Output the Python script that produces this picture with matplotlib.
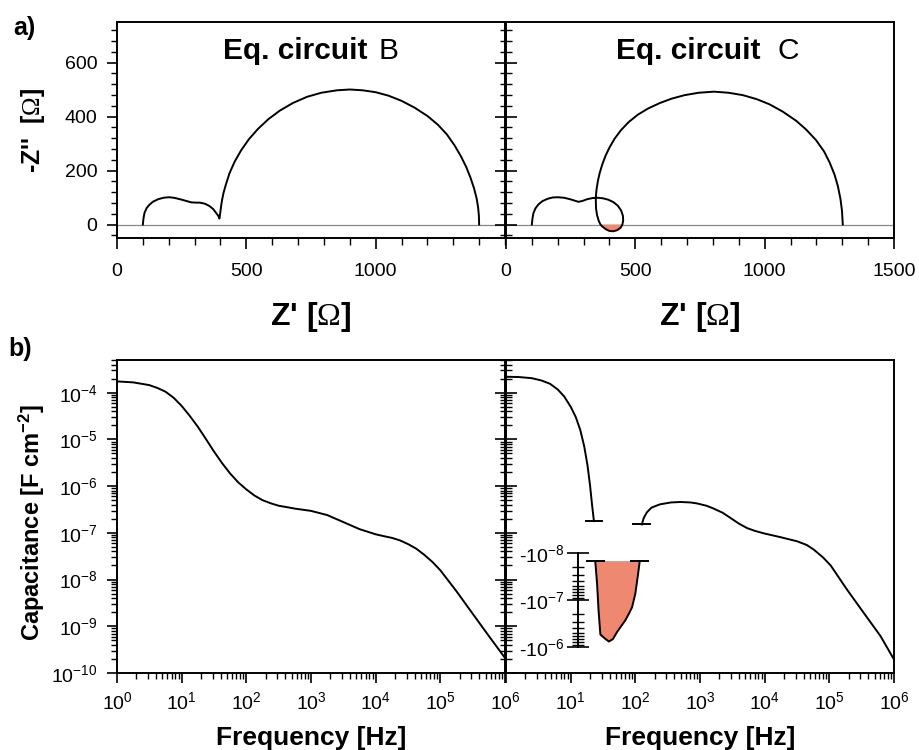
import numpy as np
import matplotlib
matplotlib.use("Agg")
import matplotlib.pyplot as plt
from matplotlib.ticker import (MultipleLocator, LogLocator, NullFormatter,
                               FuncFormatter, LogFormatterSciNotation)

plt.rcParams['font.family'] = ['Liberation Sans', 'DejaVu Sans']
plt.rcParams['mathtext.fontset'] = 'custom'
plt.rcParams['mathtext.rm'] = 'Liberation Sans'
plt.rcParams['mathtext.bf'] = 'Liberation Sans:bold'
plt.rcParams['mathtext.sf'] = 'Liberation Serif'

# --- Nyquist data, equivalent circuit B (Z', -Z'')
zb_re = [100, 102, 106, 114, 125, 140, 160, 180, 200, 220, 242, 265, 287, 305,
         320, 340, 358, 372, 383, 391, 396, 399, 402, 406, 412, 420, 435, 455,
         480, 510, 545, 585, 630, 680, 735, 790, 850, 900, 950, 1000,
         1050, 1100, 1150, 1200, 1240, 1275, 1305, 1330, 1350, 1366, 1380,
         1390, 1396, 1399, 1400]
zb_im = [0, 20, 42, 60, 73, 85, 94, 99, 101, 99, 94, 88, 82, 81,
         81, 77, 68, 57, 43, 33, 22, 42, 65, 90, 118, 145, 190, 233,
         275, 316, 354, 390, 422, 450, 473, 488, 497, 500, 497, 490,
         477, 458, 433, 402, 370, 334, 293, 252, 213, 175, 135,
         98, 64, 33, 0]

# --- Nyquist data, equivalent circuit C
zc_re = [100, 102, 106, 114, 125, 140, 160, 180, 200, 225, 250, 270, 280, 295,
         315, 335, 355, 375, 395, 415, 432, 445, 452, 453, 450, 443, 430, 415,
         400, 385, 372, 365, 358, 352, 348, 347, 350, 355, 362, 372, 385, 400,
         420, 445, 475, 510, 550, 595, 640, 690, 745, 804, 860, 916, 970, 1019,
         1070, 1122, 1160, 1199, 1230, 1251, 1270, 1283, 1293, 1299, 1302]
zc_im = [0, 20, 42, 60, 74, 86, 95, 100, 101, 99, 93, 87, 84, 87,
         94, 98, 99, 97, 92, 83, 70, 52, 32, 15, 0, -12, -21, -25,
         -24, -17, -7, 0, 15, 35, 60, 100, 130, 160, 190, 222, 255, 285,
         318, 350, 380, 407, 430, 450, 466, 479, 488, 492, 488, 479, 464, 445,
         418, 384, 352, 312, 270, 230, 185, 142, 95, 50, 0]

# --- capacitance vs frequency, circuit B
freq_b = [1, 1.78, 3.16, 4.22, 5.62, 7.50, 10, 13.3, 17.8, 23.7, 31.6, 42.2,
          56.2, 75.0, 100, 133, 178, 237, 316, 422, 562, 1000, 1780, 3160,
          5620, 1e4, 1.33e4, 1.78e4, 2.37e4, 3.16e4, 4.22e4, 5.62e4, 7.5e4,
          1e5, 1.78e5, 3.16e5, 5.62e5, 1e6]
cap_b = [1.74e-4, 1.66e-4, 1.45e-4, 1.26e-4, 1.05e-4, 7.8e-5, 5.2e-5, 3.2e-5,
         1.86e-5, 1.02e-5, 5.5e-6, 3.1e-6, 1.86e-6, 1.20e-6, 8.5e-7, 6.3e-7,
         5.0e-7, 4.3e-7, 3.8e-7, 3.55e-7, 3.3e-7, 2.95e-7, 2.4e-7, 1.70e-7,
         1.20e-7, 9.3e-8, 8.5e-8, 7.8e-8, 6.9e-8, 5.75e-8, 4.6e-8, 3.4e-8,
         2.4e-8, 1.58e-8, 5.6e-9, 1.86e-9, 6.2e-10, 2.1e-10]

# --- capacitance vs frequency, circuit C (positive low f, negative, positive high f)
freq_c_lo = [1, 1.58, 2.51, 3.55, 4.79, 6.31, 7.94, 10, 12.0, 14.1, 16.2,
             18.2, 20.0, 21.4, 22.9]
cap_c_lo = [2.19e-4, 2.16e-4, 2.04e-4, 1.82e-4, 1.55e-4, 1.17e-4, 8.3e-5,
            5.0e-5, 3.0e-5, 1.58e-5, 7.1e-6, 2.8e-6, 1.0e-6, 4.0e-7, 1.78e-7]
freq_c_neg = [24, 25.6, 27, 28.8, 33, 38.9, 45, 52, 60, 70, 80, 89, 100, 109, 117]
cap_c_neg = [1.51e-8, 4.57e-8, 1.70e-7, 5.5e-7, 6.5e-7, 7.76e-7, 6.9e-7,
             4.9e-7, 3.7e-7, 2.75e-7, 1.95e-7, 1.45e-7, 7.4e-8, 3.2e-8, 1.51e-8]
freq_c_hi = [126, 135, 151, 178, 240, 355, 501, 708, 891, 1260, 1620, 2240,
             2950, 3980, 5370, 7080, 9550, 1.74e4, 3.16e4, 4.47e4, 5.75e4,
             7.94e4, 1.05e5, 1.86e5, 3.39e5, 6.17e5, 1e6]
cap_c_hi = [1.51e-7, 2.09e-7, 2.75e-7, 3.47e-7, 4.07e-7, 4.47e-7, 4.57e-7,
            4.47e-7, 4.27e-7, 3.80e-7, 3.31e-7, 2.69e-7, 2.09e-7, 1.58e-7,
            1.26e-7, 1.10e-7, 9.8e-8, 8.1e-8, 6.6e-8, 5.5e-8, 4.37e-8, 3.0e-8,
            2.0e-8, 6.2e-9, 1.95e-9, 6.2e-10, 1.95e-10]

salmon = '#ef8870'
lw = 1.4
W, H = 920, 750


def box(l, t, r, b):
    return [l / W, 1 - b / H, (r - l) / W, (b - t) / H]


fig = plt.figure(figsize=(9.2, 7.5), dpi=100)
ax_a1 = fig.add_axes(box(117, 22, 505, 238))
ax_a2 = fig.add_axes(box(506, 22, 894, 238))
ax_b1 = fig.add_axes(box(117, 360, 505, 673))
ax_b2 = fig.add_axes(box(506, 360, 894, 673))

for ax in (ax_a1, ax_a2, ax_b1, ax_b2):
    for s in ax.spines.values():
        s.set_linewidth(1.4)
    ax.tick_params(labelsize=14, width=1.2)

# ---- a) Nyquist plots
for ax, re, im in ((ax_a1, zb_re, zb_im), (ax_a2, zc_re, zc_im)):
    re = np.array(re)
    im = np.array(im)
    ax.axhline(0, color='#888888', lw=0.9, zorder=1)
    ax.fill_between(re, im, 0, where=im <= 0, color=salmon, lw=0, zorder=2)
    ax.plot(re, im, color='k', lw=lw, zorder=3)
    ax.set_xlim(0, 1500)
    ax.set_ylim(-50, 750)
    ax.yaxis.set_major_locator(MultipleLocator(200))
    ax.yaxis.set_minor_locator(MultipleLocator(40))
    ax.xaxis.set_minor_locator(MultipleLocator(100))
    ax.tick_params(axis='x', which='major', direction='out', length=8, pad=10)
    ax.tick_params(axis='x', which='minor', direction='out', length=5, width=1)

ax_a1.set_xticks([0, 500, 1000])
ax_a1.tick_params(axis='y', which='major', direction='out', length=7, pad=7)
ax_a1.tick_params(axis='y', which='minor', direction='out', length=4, width=1)
ax_a2.set_xticks([0, 500, 1000, 1500])
ax_a2.tick_params(axis='y', which='major', direction='inout', length=16, labelleft=False)
ax_a2.tick_params(axis='y', which='minor', direction='inout', length=9, width=1)

ax_a1.text(0.645, 0.829, 'Eq. circuit', transform=ax_a1.transAxes, ha='right',
           va='baseline', fontsize=21.5, fontweight='bold')
ax_a1.text(0.673, 0.829, 'B', transform=ax_a1.transAxes, ha='left',
           va='baseline', fontsize=21.5)
ax_a2.text(0.655, 0.829, 'Eq. circuit', transform=ax_a2.transAxes, ha='right',
           va='baseline', fontsize=21.5, fontweight='bold')
ax_a2.text(0.700, 0.829, 'C', transform=ax_a2.transAxes, ha='left',
           va='baseline', fontsize=21.5)

zlabel = r"Z' [$\mathsf{\Omega}$]"
fig.text(311 / W, 1 - 325 / H, zlabel, ha='center', va='baseline',
         fontsize=23, fontweight='bold')
fig.text(700 / W, 1 - 325 / H, zlabel, ha='center', va='baseline',
         fontsize=23, fontweight='bold')
fig.text(33 / W, 1 - 130 / H, r"-Z''  [$\mathsf{\Omega}$]", rotation=90,
         ha='center', va='center', fontsize=18, fontweight='bold')

# ---- b) capacitance plots
ax_b1.plot(freq_b, cap_b, color='k', lw=lw)
ax_b2.plot(freq_c_lo, cap_c_lo, color='k', lw=lw)
ax_b2.plot(freq_c_hi, cap_c_hi, color='k', lw=lw)

# break caps at the ends of the positive branches
cw = 10 ** 0.13
for f0, c0 in ((freq_c_lo[-1], cap_c_lo[-1]), (freq_c_hi[0], cap_c_hi[0])):
    ax_b2.plot([f0 / cw, f0 * cw], [c0, c0], color='k', lw=lw)

for ax in (ax_b1, ax_b2):
    ax.set_xscale('log')
    ax.set_yscale('log')
    ax.set_xlim(1, 1e6)
    ax.set_ylim(1e-10, 5e-4)
    ax.xaxis.set_major_locator(LogLocator(base=10, numticks=20))
    ax.xaxis.set_minor_locator(LogLocator(base=10, subs=np.arange(2, 10), numticks=20))
    ax.yaxis.set_major_locator(LogLocator(base=10, numticks=20))
    ax.yaxis.set_minor_locator(LogLocator(base=10, subs=np.arange(2, 10), numticks=20))
    ax.xaxis.set_minor_formatter(NullFormatter())
    ax.yaxis.set_minor_formatter(NullFormatter())
    ax.tick_params(axis='x', which='major', direction='out', length=7, pad=6)
    ax.tick_params(axis='x', which='minor', direction='out', length=4, width=1)

ax_b1.tick_params(axis='y', which='major', direction='out', length=7, pad=7)
ax_b1.tick_params(axis='y', which='minor', direction='out', length=4, width=1)
ax_b2.tick_params(axis='y', which='major', direction='inout', length=16, labelleft=False)
ax_b2.tick_params(axis='y', which='minor', direction='inout', length=9, width=1)
sci = LogFormatterSciNotation()
ax_b2.xaxis.set_major_formatter(FuncFormatter(lambda v, p: '' if v <= 1 else sci(v, p)))

fig.text(311 / W, 0.006, 'Frequency [Hz]', ha='center', va='baseline',
         fontsize=19, fontweight='bold')
fig.text(700 / W, 0.006, 'Frequency [Hz]', ha='center', va='baseline',
         fontsize=19, fontweight='bold')
fig.text(32 / W, 1 - 523 / H, r'Capacitance [F $\mathbf{cm^{-2}}$]', rotation=90,
         ha='center', va='center', fontsize=17, fontweight='bold')

# inset axis for the negative capacitance branch
ax_in = fig.add_axes(box(506, 552.7, 894, 646.7))
ax_in.patch.set_alpha(0)
ax_in.set_xscale('log')
ax_in.set_yscale('log')
ax_in.set_xlim(1, 1e6)
ax_in.set_ylim(1e-6, 1e-8)
for s in ('top', 'right', 'bottom'):
    ax_in.spines[s].set_visible(False)
ax_in.spines['left'].set_position(('data', 13))
ax_in.spines['left'].set_linewidth(1.4)
ax_in.set_xticks([])
ax_in.xaxis.set_minor_locator(plt.NullLocator())
ax_in.yaxis.set_major_locator(LogLocator(base=10, numticks=10))
ax_in.yaxis.set_minor_locator(LogLocator(base=10, subs=np.arange(2, 10), numticks=10))
ax_in.yaxis.set_minor_formatter(NullFormatter())
ax_in.yaxis.set_major_formatter(FuncFormatter(
    lambda v, p: '-$\\mathdefault{10^{%d}}$' % round(np.log10(v))))
ax_in.tick_params(axis='y', which='major', direction='inout', length=16,
                  width=1.2, labelsize=14, pad=2)
ax_in.tick_params(axis='y', which='minor', direction='inout', length=8, width=1)
ax_in.fill(freq_c_neg, cap_c_neg, color=salmon, lw=0)
ax_in.plot(freq_c_neg, cap_c_neg, color='k', lw=lw)
for f0, c0 in ((freq_c_neg[0], cap_c_neg[0]), (freq_c_neg[-1], cap_c_neg[-1])):
    ax_in.plot([f0 / cw, f0 * cw], [c0, c0], color='k', lw=lw)

fig.text(13 / W, 1 - 35 / H, 'a)', fontsize=18, fontweight='bold', va='baseline')
fig.text(8 / W, 1 - 356 / H, 'b)', fontsize=18, fontweight='bold', va='baseline')

fig.savefig('out.png', dpi=100)
